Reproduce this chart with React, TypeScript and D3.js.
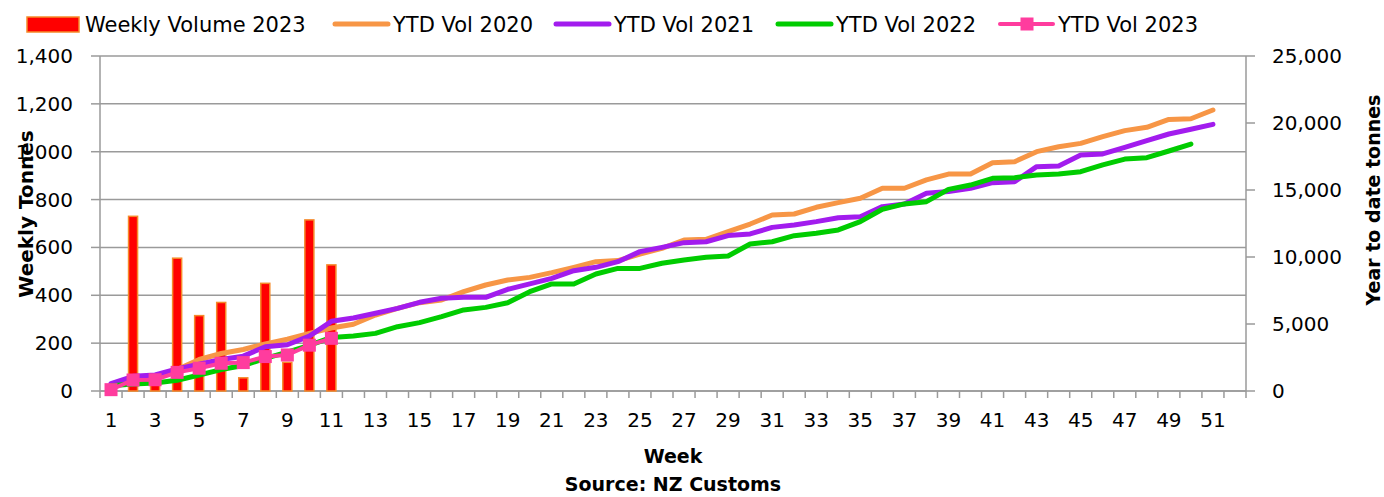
import * as d3 from "d3";

// categories
const weeks = d3.range(1, 53);
const weekLabels = weeks.filter((w) => w % 2 === 1);

// 2023 weekly volume (left axis, tonnes)
const weeklyVolume2023 = [0, 730, 30, 555, 315, 370, 55, 450, 120, 715, 527];

// year to date volumes (right axis, tonnes)
const ytd2020 = [
  450, 900, 1100, 1600, 2350, 2800, 3100, 3520, 3860, 4300, 4700, 4980, 5670,
  6170, 6590, 6790, 7410, 7910, 8280, 8480, 8830, 9230, 9650, 9730, 10220,
  10650, 11270, 11320, 11890, 12460, 13130, 13210, 13710, 14060, 14380, 15130,
  15130, 15750, 16190, 16190, 17040, 17110, 17860, 18230, 18480, 18980, 19430,
  19680, 20270, 20320, 20970,
];
const ytd2021 = [
  550, 1100, 1200, 1650, 2000, 2350, 2600, 3300, 3450, 4100, 5200, 5450, 5800,
  6170, 6620, 6920, 6990, 6990, 7590, 7990, 8410, 8980, 9230, 9650, 10400,
  10720, 11070, 11140, 11600, 11720, 12210, 12390, 12640, 12930, 13010, 13760,
  13960, 14750, 14880, 15130, 15550, 15620, 16740, 16790, 17610, 17690, 18180,
  18680, 19180, 19530, 19900,
];
const ytd2022 = [
  400, 520, 600, 800, 1190, 1600, 1900, 2440, 2900, 3400, 4000, 4100, 4300,
  4800, 5100, 5550, 6050, 6240, 6590, 7410, 7990, 7990, 8730, 9150, 9150, 9530,
  9780, 9980, 10070, 10970, 11140, 11590, 11770, 12020, 12640, 13560, 13960,
  14130, 15050, 15370, 15870, 15920, 16120, 16190, 16370, 16870, 17310, 17410,
  17910, 18430,
];
const ytd2023 = [100, 820, 840, 1390, 1700, 2070, 2120, 2570, 2690, 3420, 3930];

const leftTicks = [0, 200, 400, 600, 800, 1000, 1200, 1400];
const rightTicks = [0, 5000, 10000, 15000, 20000, 25000];

const seriesNames = [
  "Weekly Volume 2023",
  "YTD Vol 2020",
  "YTD Vol 2021",
  "YTD Vol 2022",
  "YTD Vol 2023",
];

const W = 1384;
const H = 497;
const plot = { left: 100, right: 1246, top: 56, bottom: 391 };
const FONT = "'DejaVu Sans', sans-serif";
const GRID = "#9a9a9a";

const colors = {
  bar: "#ff0000",
  barEdge: "#f58a2a",
  y2020: "#f79646",
  y2021: "#a21cee",
  y2022: "#00cc00",
  y2023: "#ff3c9e",
};

export default function App() {
  const xScale = d3
    .scaleBand<number>()
    .domain(weeks)
    .range([plot.left, plot.right])
    .padding(0);
  const step = xScale.bandwidth();
  const cx = (w: number) => (xScale(w) ?? 0) + step / 2;

  const yLeft = d3.scaleLinear().domain([0, 1400]).range([plot.bottom, plot.top]);
  const yRight = d3
    .scaleLinear()
    .domain([0, 25000])
    .range([plot.bottom, plot.top]);

  const fmt = d3.format(",");
  const barW = step * 0.41;

  const lineGen = d3
    .line<number>()
    .x((_, i) => cx(weeks[i]))
    .y((d) => yRight(d));

  const ytdLines = [
    { data: ytd2020, color: colors.y2020 },
    { data: ytd2021, color: colors.y2021 },
    { data: ytd2022, color: colors.y2022 },
  ];

  // legend layout
  const legendX = [27, 335, 556, 778, 1000];
  const legendColors = [
    colors.bar,
    colors.y2020,
    colors.y2021,
    colors.y2022,
    colors.y2023,
  ];
  const legendY = 24;

  return (
    <svg
      width={W}
      height={H}
      style={{ position: "absolute", left: 0, top: 0, background: "#fff" }}
      fontFamily={FONT}
    >
      {/* gridlines */}
      {leftTicks.map((t) => (
        <line
          key={"g" + t}
          x1={plot.left}
          x2={plot.right}
          y1={yLeft(t)}
          y2={yLeft(t)}
          stroke={GRID}
          strokeWidth={1.5}
        />
      ))}

      {/* left axis */}
      <line x1={plot.left} x2={plot.left} y1={plot.top} y2={plot.bottom} stroke={GRID} strokeWidth={1.5} />
      {leftTicks.map((t) => (
        <g key={"l" + t}>
          <line x1={plot.left - 9} x2={plot.left} y1={yLeft(t)} y2={yLeft(t)} stroke={GRID} strokeWidth={1.5} />
          <text x={73} y={yLeft(t) + 7} textAnchor="end" fontSize={20} fill="#000">
            {fmt(t)}
          </text>
        </g>
      ))}

      {/* right axis */}
      <line x1={plot.right} x2={plot.right} y1={plot.top} y2={plot.bottom} stroke={GRID} strokeWidth={1.5} />
      {rightTicks.map((t) => (
        <g key={"r" + t}>
          <line x1={plot.right} x2={plot.right + 9} y1={yRight(t)} y2={yRight(t)} stroke={GRID} strokeWidth={1.5} />
          <text x={1272} y={yRight(t) + 7} fontSize={20} fill="#000">
            {fmt(t)}
          </text>
        </g>
      ))}

      {/* x axis */}
      <line x1={plot.left} x2={plot.right} y1={plot.bottom} y2={plot.bottom} stroke={GRID} strokeWidth={1.5} />
      {weeks.concat([53]).map((w) => {
        const x = w === 53 ? plot.right : xScale(w) ?? 0;
        return (
          <line key={"xt" + w} x1={x} x2={x} y1={plot.bottom} y2={plot.bottom + 7} stroke={GRID} strokeWidth={1.5} />
        );
      })}
      {weekLabels.map((w) => (
        <text key={"xl" + w} x={cx(w)} y={427} textAnchor="middle" fontSize={20} fill="#000">
          {w}
        </text>
      ))}

      {/* bars */}
      {weeklyVolume2023.map((v, i) => {
        const w = weeks[i];
        const y = yLeft(v);
        return (
          <rect
            key={"b" + w}
            x={cx(w) - barW / 2}
            y={y}
            width={barW}
            height={plot.bottom - y}
            fill={colors.bar}
            stroke={colors.barEdge}
            strokeWidth={1.5}
          />
        );
      })}

      {/* ytd lines */}
      {ytdLines.map((s, i) => (
        <path
          key={"line" + i}
          d={lineGen(s.data) ?? ""}
          fill="none"
          stroke={s.color}
          strokeWidth={5}
          strokeLinejoin="round"
          strokeLinecap="round"
        />
      ))}
      <path
        d={lineGen(ytd2023) ?? ""}
        fill="none"
        stroke={colors.y2023}
        strokeWidth={4}
        strokeLinejoin="round"
      />
      {ytd2023.map((v, i) => (
        <rect
          key={"m" + i}
          x={cx(weeks[i]) - 6.5}
          y={yRight(v) - 6.5}
          width={13}
          height={13}
          fill={colors.y2023}
        />
      ))}

      {/* axis titles */}
      <text
        transform={`translate(33,214) rotate(-90)`}
        textAnchor="middle"
        fontSize={20}
        fontWeight="bold"
        fill="#000"
      >
        Weekly Tonnes
      </text>
      <text
        transform={`translate(1380,200) rotate(-90)`}
        textAnchor="middle"
        fontSize={19}
        fontWeight="bold"
        fill="#000"
      >
        Year to date tonnes
      </text>
      <text x={673} y={463} textAnchor="middle" fontSize={19} fontWeight="bold" fill="#000">
        Week
      </text>
      <text x={673} y={491} textAnchor="middle" fontSize={19} fontWeight="bold" fill="#000">
        Source: NZ Customs
      </text>

      {/* legend */}
      {seriesNames.map((name, i) => {
        const x0 = legendX[i];
        return (
          <g key={"lg" + i}>
            {i === 0 ? (
              <rect x={x0} y={17} width={52} height={15} fill={colors.bar} stroke={colors.barEdge} strokeWidth={1.5} />
            ) : (
              <line
                x1={x0}
                x2={x0 + 53}
                y1={legendY}
                y2={legendY}
                stroke={legendColors[i]}
                strokeWidth={i === 4 ? 4 : 5}
                strokeLinecap="round"
              />
            )}
            {i === 4 && (
              <rect x={x0 + 27 - 6.5} y={legendY - 6.5} width={13} height={13} fill={colors.y2023} />
            )}
            <text x={x0 + 58} y={legendY + 8} fontSize={21} fill="#000">
              {name}
            </text>
          </g>
        );
      })}
    </svg>
  );
}
